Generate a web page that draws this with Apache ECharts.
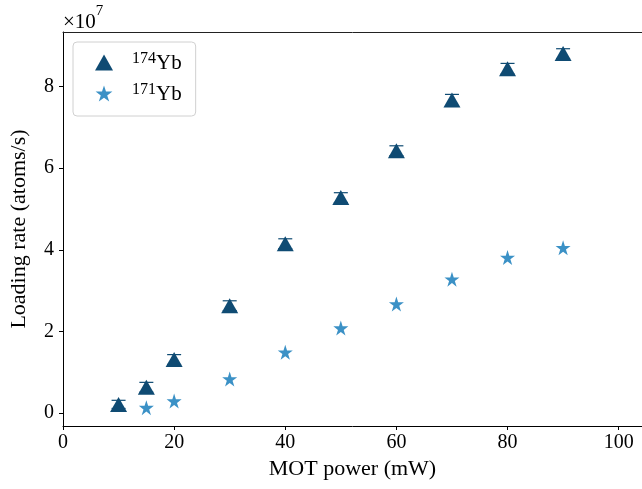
<!DOCTYPE html>
<html>
<head>
<meta charset="utf-8" />
<title>MOT loading rate</title>
<script src="https://cdn.jsdelivr.net/npm/echarts@6/dist/echarts.min.js"></script>
<style>
  html, body { margin: 0; padding: 0; background: #fff; }
  #chart { width: 642px; height: 489px; }
</style>
</head>
<body>
<div id="chart"></div>
<script>
// MOT power (mW)
var power174 = [10, 15, 20, 30, 40, 50, 60, 70, 80, 90];
var power171 = [15, 20, 30, 40, 50, 60, 70, 80, 90];
// loading rate, in units of 1e7 atoms/s
var rate174 = [0.21, 0.63, 1.31, 2.63, 4.15, 5.28, 6.43, 7.67, 8.44, 8.81];
var err174 = [0.10, 0.12, 0.12, 0.12, 0.12, 0.12, 0.12, 0.14, 0.13, 0.12];
var rate171 = [0.13, 0.29, 0.83, 1.49, 2.08, 2.67, 3.28, 3.81, 4.05];
var xTicks = [0, 20, 40, 60, 80, 100];
var yTicks = [0, 2, 4, 6, 8];

var dark = '#0f4b73';
var light = '#3b91c6';
var font = "'Palatino Linotype', 'Book Antiqua', Palatino, 'Liberation Serif', serif";
var starPath = 'path://M50,0 L61.8,36.2 L100,36.2 L69.1,58.8 L80.9,95.1 L50,72.6 L19.1,95.1 L30.9,58.8 L0,36.2 L38.2,36.2 Z';

var pts174 = power174.map(function (x, i) { return [x, rate174[i]]; });
var pts171 = power171.map(function (x, i) { return [x, rate171[i]]; });
var errData = power174.map(function (x, i) { return [x, rate174[i] - err174[i], rate174[i] + err174[i]]; });

var chart = echarts.init(document.getElementById('chart'));
chart.setOption({
    animation: false,
    textStyle: { fontFamily: font },
    grid: { left: 63, right: 0, top: 32, bottom: 63 },
    graphic: [{
        type: 'text', left: 63, top: 4,
        style: {
            text: '{m|×10}{s|7}',
            rich: {
                m: { fontFamily: font, fontSize: 21, fill: '#000', verticalAlign: 'bottom', padding: [8, 0, 0, 0] },
                s: { fontFamily: font, fontSize: 15, fill: '#000', verticalAlign: 'top' }
            }
        }
    }],
    legend: {
        orient: 'vertical', left: 73, top: 42,
        padding: [9, 14, 11, 22],
        itemGap: 8, itemWidth: 18, itemHeight: 16,
        borderColor: '#d0d0d0', borderWidth: 1, borderRadius: 4,
        formatter: function (name) { return '{s|' + name.slice(0, 3) + '}{b|' + name.slice(3) + '}'; },
        textStyle: {
            padding: [0, 0, 0, 14],
            rich: {
                s: { fontFamily: font, fontSize: 16, verticalAlign: 'top', padding: [0, 0, 7, 0], color: '#000' },
                b: { fontFamily: font, fontSize: 21, verticalAlign: 'bottom', color: '#000' }
            }
        },
        data: ['174Yb', '171Yb']
    },
    xAxis: [{
        type: 'value', min: 0, max: 104.2,
        name: 'MOT power (mW)', nameLocation: 'middle', nameGap: 32,
        nameTextStyle: { fontFamily: font, fontSize: 22, color: '#000' },
        axisLine: { show: true, onZero: false, lineStyle: { color: '#000', width: 1 } },
        axisTick: { show: true, length: 4, lineStyle: { color: '#000' }, customValues: xTicks },
        axisLabel: { margin: 7, fontFamily: font, fontSize: 20, color: '#000', customValues: xTicks },
        splitLine: { show: false }
    }, {
        // top spine only
        type: 'value', position: 'top', min: 0, max: 104.2,
        axisLine: { show: true, onZero: false, lineStyle: { color: '#222', width: 1 } },
        axisTick: { show: false },
        axisLabel: { show: false },
        splitLine: { show: false }
    }],
    yAxis: {
        type: 'value', min: -0.32, max: 9.34,
        name: 'Loading rate (atoms/s)', nameLocation: 'middle', nameGap: 33,
        nameTextStyle: { fontFamily: font, fontSize: 22, color: '#000' },
        axisLine: { show: true, onZero: false, lineStyle: { color: '#000', width: 1 } },
        axisTick: { show: true, length: 4, lineStyle: { color: '#000' }, customValues: yTicks },
        axisLabel: { margin: 9, fontFamily: font, fontSize: 20, color: '#000', customValues: yTicks },
        splitLine: { show: false }
    },
    series: [{
        type: 'custom',
        name: 'err174',
        z: 1,
        silent: true,
        renderItem: function (params, api) {
            var lo = api.coord([api.value(0), api.value(1)]);
            var hi = api.coord([api.value(0), api.value(2)]);
            var hw = 7;
            var st = { stroke: dark, lineWidth: 1.2 };
            return {
                type: 'group',
                children: [
                    { type: 'line', shape: { x1: lo[0], y1: lo[1], x2: hi[0], y2: hi[1] }, style: st },
                    { type: 'line', shape: { x1: lo[0] - hw, y1: lo[1], x2: lo[0] + hw, y2: lo[1] }, style: st },
                    { type: 'line', shape: { x1: hi[0] - hw, y1: hi[1], x2: hi[0] + hw, y2: hi[1] }, style: st }
                ]
            };
        },
        encode: { x: 0, y: [1, 2] },
        data: errData
    }, {
        type: 'scatter',
        name: '174Yb',
        z: 3,
        symbol: 'triangle',
        symbolSize: [17, 15],
        itemStyle: { color: dark, opacity: 1 },
        data: pts174
    }, {
        type: 'scatter',
        name: '171Yb',
        z: 3,
        symbol: starPath,
        symbolSize: 15,
        itemStyle: { color: light, opacity: 1 },
        data: pts171
    }]
});
</script>
</body>
</html>
